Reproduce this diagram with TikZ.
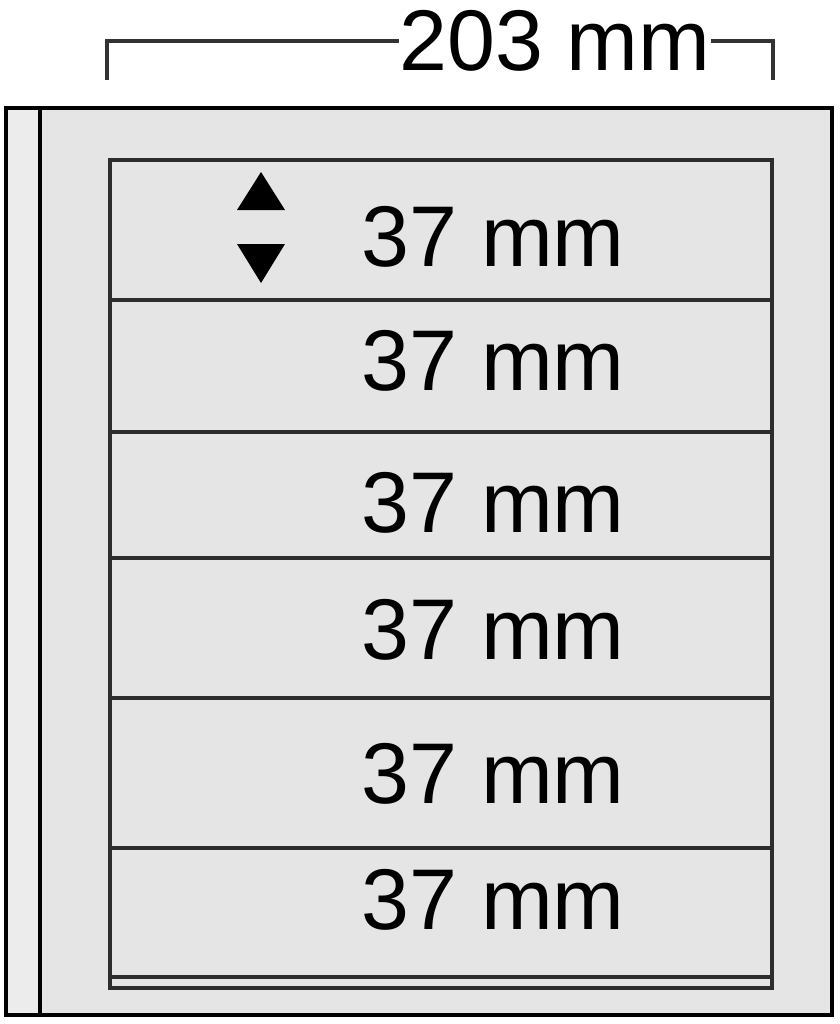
\documentclass[tikz,border=0pt]{standalone}
\usepackage{fontspec}
\setmainfont{Liberation Sans}
\definecolor{pagegray}{RGB}{229, 229, 229}
\definecolor{rimgray}{RGB}{236, 236, 236}
\definecolor{stripline}{RGB}{45, 45, 45}
\usetikzlibrary{positioning, calc}

\tikzset{
  sheet/.style={draw=black, line width=1.2pt},
  strip/.style={draw=stripline, line width=1pt, fill=pagegray},
  size/.style={font=\fontsize{24.5}{28}\selectfont, inner sep=0pt},
  dimline/.style={draw=black!80, line width=0.9pt},
}

\begin{document}
\begin{tikzpicture}[x=0.01cm, y=-0.01cm]
  \useasboundingbox (0,0) rectangle (840,1024);
  \fill[white] (0,0) rectangle (840,1024);

  \fill[pagegray] (6,108) rectangle (832,1015);
  \fill[rimgray] (6,108) rectangle (40,1015);

  \foreach \top/\bot/\ty [count=\i] in {160/300/237, 300/432/361, 432/558/503, 558/698/630, 698/848/774, 848/977/900} {
    \draw[strip] (110,\top) rectangle (772,\bot);
    \node[size] (row\i) at (493,\ty) {37 mm};
  }
  \draw[strip] (110,977) rectangle (772,988);

  \fill (237,210) -- (285,210) -- (261,172) -- cycle;
  \fill (237,244) -- (285,244) -- (261,283) -- cycle;

  \draw[sheet] (6,108) rectangle (832,1015);
  \draw[sheet] (40,108) -- (40,1015);

  \coordinate (dimL) at (107,80);
  \coordinate (dimR) at (773,80);
  \node[size] (width) at (555,41) {203 mm};
  \draw[dimline] (dimL) |- (width.west);
  \draw[dimline] (width.east) -| (dimR);
\end{tikzpicture}
\end{document}
